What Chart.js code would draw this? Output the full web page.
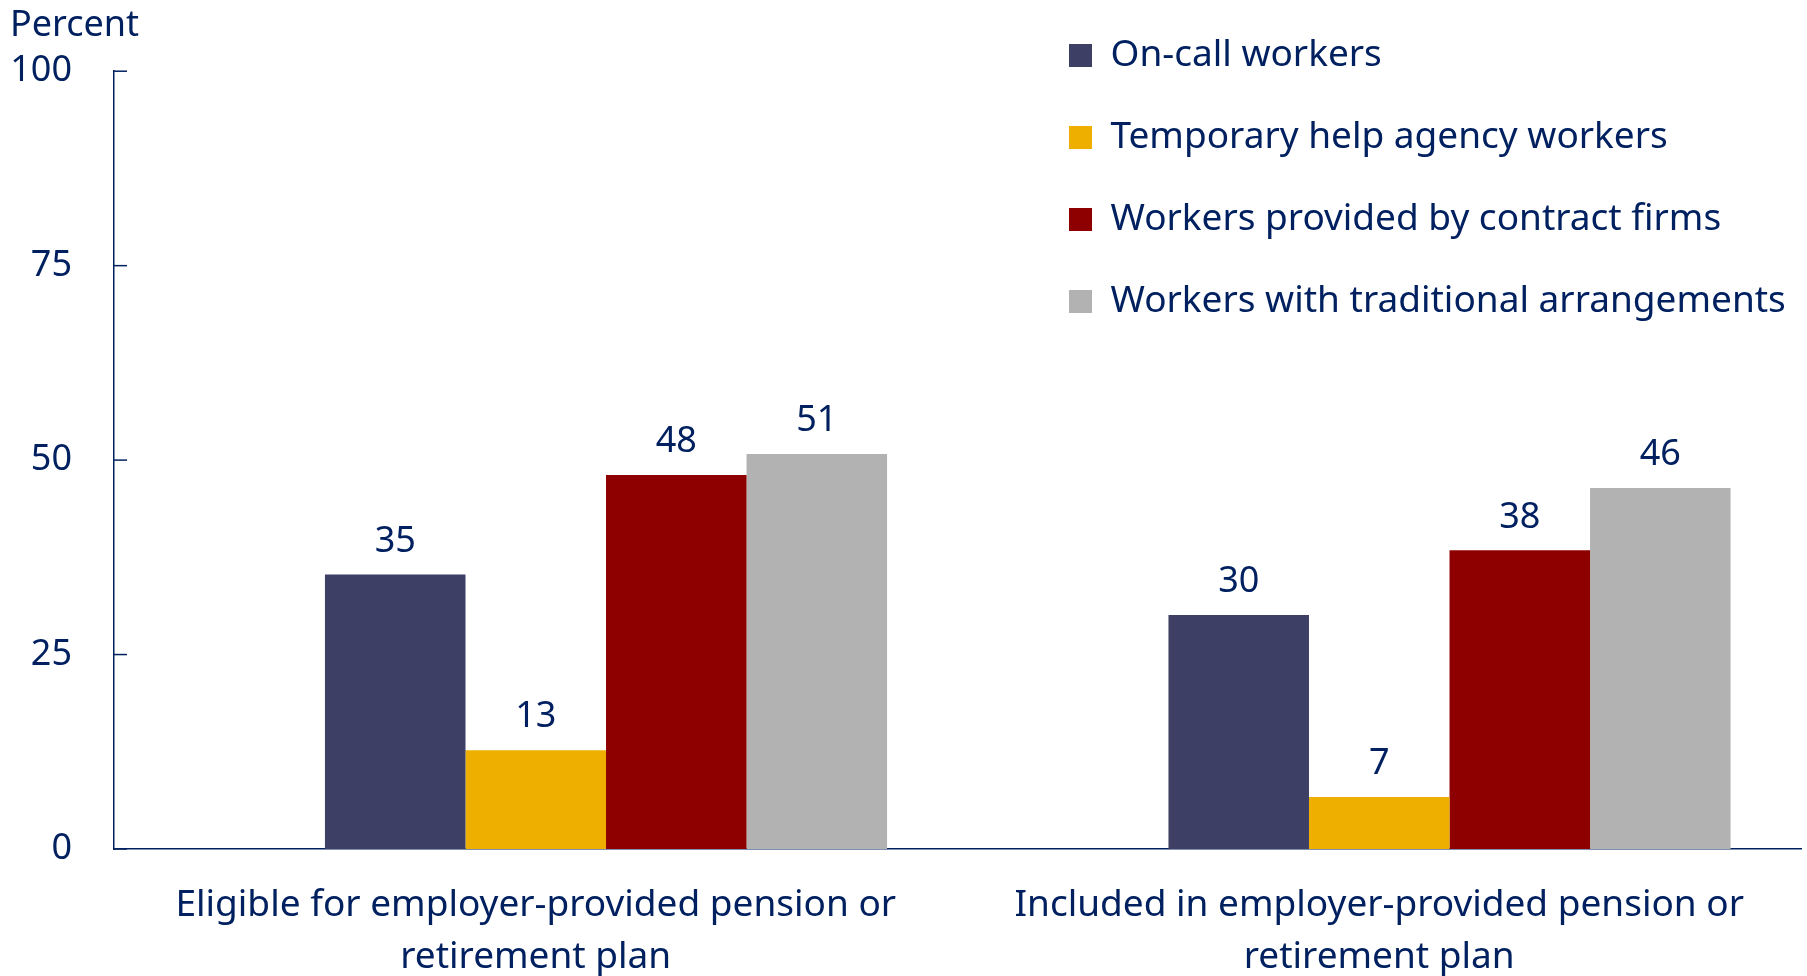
<!DOCTYPE html>
<html>
<head>
<meta charset="utf-8">
<script src="https://cdn.jsdelivr.net/npm/chart.js@4.4.1/dist/chart.umd.min.js"></script>
<style>
    html, body { margin: 0; padding: 0; background: #fff; overflow: hidden; }
    #wrap { width: 1807px; height: 976px; position: relative; }
</style>
</head>
<body>
<div id="wrap"><canvas id="chart"></canvas></div>
<script>
// data
const categories = [
    ['Eligible for employer-provided pension or', 'retirement plan'],
    ['Included in employer-provided pension or', 'retirement plan']
];
const seriesNames = [
    'On-call workers',
    'Temporary help agency workers',
    'Workers provided by contract firms',
    'Workers with traditional arrangements'
];
const onCall = [35.3, 30.1];
const tempHelp = [12.7, 6.7];
const contractFirms = [48.1, 38.4];
const traditional = [50.8, 46.4];
const yTicks = [0, 25, 50, 75, 100];

const seriesValues = [onCall, tempHelp, contractFirms, traditional];
const seriesColors = ['#3d3f65', '#eeaf00', '#8e0000', '#b2b2b2'];

const navy = '#002060';
const family = "'Noto Sans', sans-serif";
Chart.defaults.font.family = family;

// short tick marks pointing into the plot, like the original
const insideTicks = {
    id: 'insideTicks',
    afterDraw(chart) {
        const y = chart.scales.y;
        const ctx = chart.ctx;
        const left = chart.chartArea.left;
        ctx.save();
        ctx.strokeStyle = navy;
        ctx.lineWidth = 1.5;
        y.ticks.forEach(t => {
            const py = y.getPixelForValue(t.value);
            ctx.beginPath();
            ctx.moveTo(left, py);
            ctx.lineTo(left + 13, py);
            ctx.stroke();
        });
        ctx.restore();
    }
};

// value labels above each bar
const barLabels = {
    id: 'barLabels',
    afterDatasetsDraw(chart) {
        const ctx = chart.ctx;
        ctx.save();
        ctx.fillStyle = navy;
        ctx.font = `36px ${family}`;
        ctx.textAlign = 'center';
        ctx.textBaseline = 'middle';
        chart.data.datasets.forEach((ds, i) => {
            chart.getDatasetMeta(i).data.forEach((bar, j) => {
                const v = ds.data[j];
                if (v == null) return;
                ctx.fillText(Math.round(v), bar.x, bar.y - 33);
            });
        });
        ctx.restore();
    }
};

// move the chartArea legend to the top right corner
const legendPlace = {
    id: 'legendPlace',
    afterLayout(chart) {
        const lg = chart.legend;
        lg.left = 1024;
        lg.right = chart.width;
        lg.top = -8;
        lg.bottom = chart.chartArea.bottom;
        lg.width = lg.right - lg.left;
        lg.height = lg.bottom - lg.top;
    }
};

// first slot is empty in the original chart (bars sit right of centre)
const datasets = [{label: '', data: [null, null], backgroundColor: 'rgba(0,0,0,0)'}];
seriesNames.forEach((name, i) => {
    datasets.push({
        label: name,
        data: seriesValues[i],
        backgroundColor: seriesColors[i],
        borderWidth: 0
    });
});

new Chart(document.getElementById('chart'), {
    type: 'bar',
    data: {labels: categories, datasets: datasets},
    options: {
        responsive: true,
        maintainAspectRatio: false,
        animation: false,
        datasets: {bar: {categoryPercentage: 0.833, barPercentage: 1}},
        layout: {padding: {left: 10, right: 6, top: 0, bottom: 0}},
        plugins: {
            title: {
                display: true,
                text: 'Percent',
                align: 'start',
                color: navy,
                font: {family: family, size: 36, weight: 'normal'},
                padding: {top: 4, bottom: 24}
            },
            legend: {
                position: 'chartArea',
                align: 'start',
                labels: {
                    boxWidth: 23,
                    boxHeight: 23,
                    padding: 45,
                    color: navy,
                    font: {family: family, size: 37},
                    filter: item => item.text !== ''
                }
            },
            tooltip: {enabled: false}
        },
        scales: {
            x: {
                grid: {display: false, drawTicks: false},
                border: {display: true, color: navy, width: 1.5},
                ticks: {
                    color: navy,
                    font: {family: family, size: 37, lineHeight: 1.4},
                    padding: 30.5,
                    maxRotation: 0,
                    autoSkip: false
                },
                afterFit: s => { s.height = 127; }
            },
            y: {
                min: 0,
                max: 100,
                afterBuildTicks: s => { s.ticks = yTicks.map(v => ({value: v})); },
                grid: {display: false, drawTicks: false},
                border: {display: true, color: navy, width: 1.5},
                ticks: {color: navy, font: {family: family, size: 36}, padding: 42},
                afterFit: s => { s.width = 104; }
            }
        }
    },
    plugins: [insideTicks, barLabels, legendPlace]
});
</script>
</body>
</html>
